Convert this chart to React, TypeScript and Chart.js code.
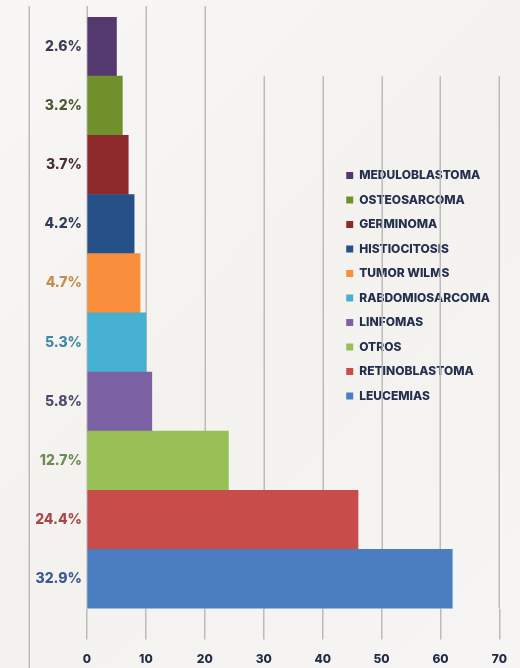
import { useEffect, useRef } from "react";
import { Chart, registerables } from "chart.js";

Chart.register(...registerables);

// ---- data ----
const categories = [
  "MEDULOBLASTOMA",
  "OSTEOSARCOMA",
  "GERMINOMA",
  "HISTIOCITOSIS",
  "TUMOR WILMS",
  "RABDOMIOSARCOMA",
  "LINFOMAS",
  "OTROS",
  "RETINOBLASTOMA",
  "LEUCEMIAS",
];
const percentLabels = ["2.6%", "3.2%", "3.7%", "4.2%", "4.7%", "5.3%", "5.8%", "12.7%", "24.4%", "32.9%"];
const values = [5, 6, 7, 8, 9, 10, 11, 24, 46, 62];
const xTicks = [0, 10, 20, 30, 40, 50, 60, 70];

// ---- styles ----
const barColors = [
  "#53396f",
  "#70902c",
  "#8e2b2a",
  "#255188",
  "#f98f3c",
  "#45b0d0",
  "#7d62a3",
  "#98c054",
  "#c84d4a",
  "#4a7ec0",
];
const labelColors = [
  "#3d3a55",
  "#4d5a33",
  "#4a2e30",
  "#2d3d5a",
  "#c78a4e",
  "#3e8aa5",
  "#4e4a6e",
  "#6f8a55",
  "#a8464a",
  "#3d5a8f",
];
const GRID = "#bdbbb9";
const FONT = "Inter, 'Open Sans', sans-serif";

const gridPlugin = {
  id: "gridExtras",
  beforeDatasetsDraw(chart: any) {
    const { ctx, chartArea, scales } = chart;
    const xs = scales.x;
    const ys = scales.y;
    ctx.save();
    ctx.strokeStyle = GRID;
    ctx.lineWidth = 1.5;
    const firstBarBottom = ys.getPixelForValue(0.5);
    xs.ticks.forEach((t: any) => {
      const px = Math.round(xs.getPixelForValue(t.value)) + 0.25;
      const top = t.value <= 20 ? chartArea.top - 11 : firstBarBottom;
      ctx.beginPath();
      ctx.moveTo(px, top);
      ctx.lineTo(px, chartArea.bottom);
      ctx.stroke();
    });
    const lx = Math.round(chartArea.left - 58) + 0.25;
    ctx.beginPath();
    ctx.moveTo(lx, chartArea.top - 11);
    ctx.lineTo(lx, chart.height);
    ctx.stroke();
    ctx.restore();
  },
  afterLayout(chart: any) {
    const lg = chart.legend;
    if (!lg) return;
    const xs = chart.scales.x;
    const left = xs.getPixelForValue(44) - 12.5;
    const top = chart.chartArea.top + 140;
    lg.left = left;
    lg.right = left + lg.width;
    lg.top = top;
    lg.bottom = top + lg.height;
  },
};

export default function App() {
  const ref = useRef<HTMLCanvasElement>(null);

  useEffect(() => {
    if (!ref.current) return;
    const chart = new Chart(ref.current, {
      type: "bar",
      data: {
        labels: categories,
        datasets: [
          {
            label: "Casos",
            data: values,
            backgroundColor: barColors,
            borderColor: barColors,
            borderWidth: 0,
            categoryPercentage: 1,
            barPercentage: 1,
          },
        ],
      },
      options: {
        indexAxis: "y",
        responsive: false,
        animation: false,
        layout: { padding: { top: 17, right: 20, left: 0, bottom: 0 } },
        scales: {
          x: {
            min: 0,
            max: 70,
            afterBuildTicks: (s: any) => {
              s.ticks = xTicks.map((v) => ({ value: v }));
            },
            grid: {
              display: true,
              drawOnChartArea: false,
              drawTicks: true,
              tickLength: 31,
              color: GRID,
              lineWidth: 1.5,
            },
            border: { display: false },
            ticks: {
              padding: 13,
              color: "#1f2a44",
              font: { family: FONT, size: 12, weight: "800" as any },
            },
          },
          y: {
            grid: { display: false, drawTicks: false },
            border: { display: false },
            afterFit: (s: any) => {
              s.width = 87;
            },
            ticks: {
              padding: 5,
              color: (c: any) => labelColors[c.index],
              font: { family: FONT, size: 14, weight: "800" as any },
              callback: (_v: any, i: number) => percentLabels[i],
            },
          },
        },
        plugins: {
          legend: {
            display: true,
            position: "chartArea" as any,
            align: "start",
            labels: {
              boxWidth: 7,
              boxHeight: 7,
              padding: 12.5,
              color: "#24304f",
              font: { family: FONT, size: 12, weight: "800" as any },
              generateLabels: () =>
                categories.map((c, i) => ({
                  text: c,
                  fillStyle: barColors[i],
                  strokeStyle: barColors[i],
                  lineWidth: 0,
                  fontColor: "#24304f",
                  hidden: false,
                  index: i,
                  datasetIndex: 0,
                })),
            },
          },
          tooltip: { enabled: false },
        },
      },
      plugins: [gridPlugin],
    });
    return () => chart.destroy();
  }, []);

  return (
    <div
      style={{
        position: "fixed",
        left: 0,
        top: 0,
        width: 520,
        height: 668,
        overflow: "hidden",
        background: "linear-gradient(135deg, #f8f7f5 0%, #f4f2ef 50%, #f7f5f3 100%)",
      }}
    >
      <canvas ref={ref} width={520} height={680} style={{ display: "block" }} />
    </div>
  );
}
